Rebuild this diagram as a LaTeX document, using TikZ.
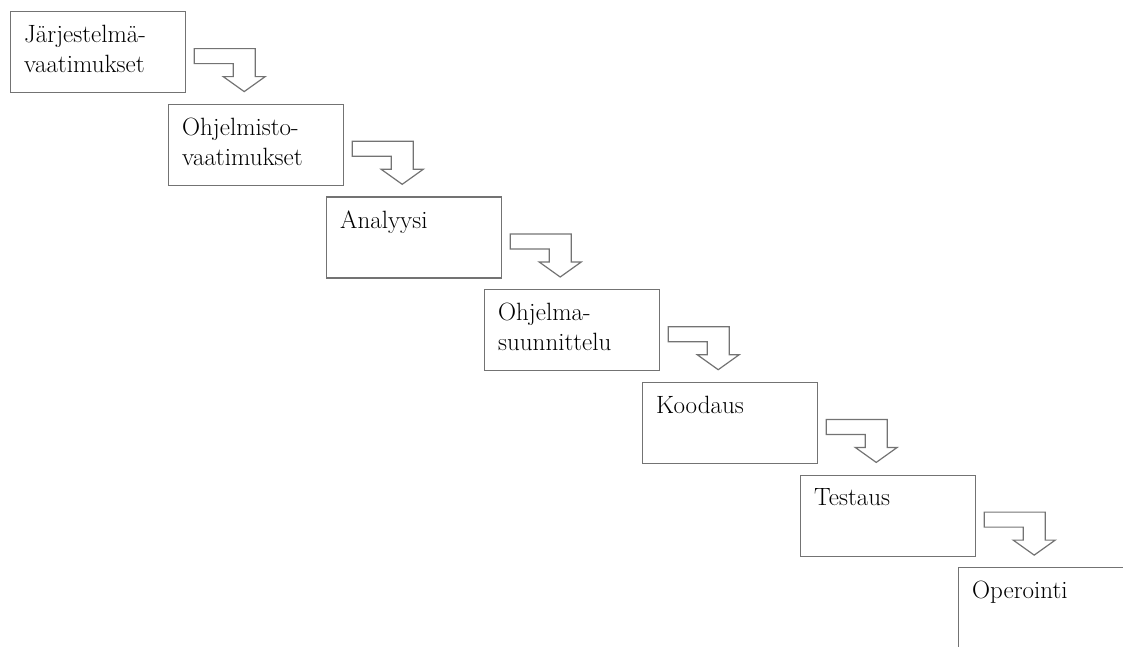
\documentclass[tikz,border=0pt]{standalone}
\usetikzlibrary{calc}

\begin{document}
\begin{tikzpicture}[
    x=1pt, y=-1pt,
    phase/.style={draw=black!55, line width=1.2pt, minimum width=175pt,
                  minimum height=81pt, anchor=north west, inner sep=0pt},
    phasetext/.style={anchor=north west, align=left, inner sep=0pt,
                      font=\fontsize{25}{30}\selectfont},
    flowarrow/.style={draw=black!55, line width=1.2pt, line join=miter}
  ]
  \path[use as bounding box, clip] (0,0) rectangle (1123,646);

  % Phases
  \foreach \t [count=\i from 0] in {{Järjestelmä-\\vaatimukset},
      {Ohjelmisto-\\vaatimukset}, Analyysi, {Ohjelma-\\suunnittelu},
      Koodaus, Testaus, Operointi} {
    \node[phase] (b\i) at (10+158*\i, 11+92.7*\i) {};
    \node[phasetext] (t\i) at ($(b\i.north west)+(14,14)$) {\t};
  }

  % Bent arrows between phases
  \foreach \i in {0,...,5} {
    \draw[flowarrow] ($(b\i.east)+(8,-3.5)$) -- ++(61,0) -- ++(0,28)
      -- ++(10,0) -- ++(-21,15) -- ++(-21,-15) -- ++(10,0) -- ++(0,-13)
      -- ++(-39,0) -- cycle;
  }
\end{tikzpicture}
\end{document}
